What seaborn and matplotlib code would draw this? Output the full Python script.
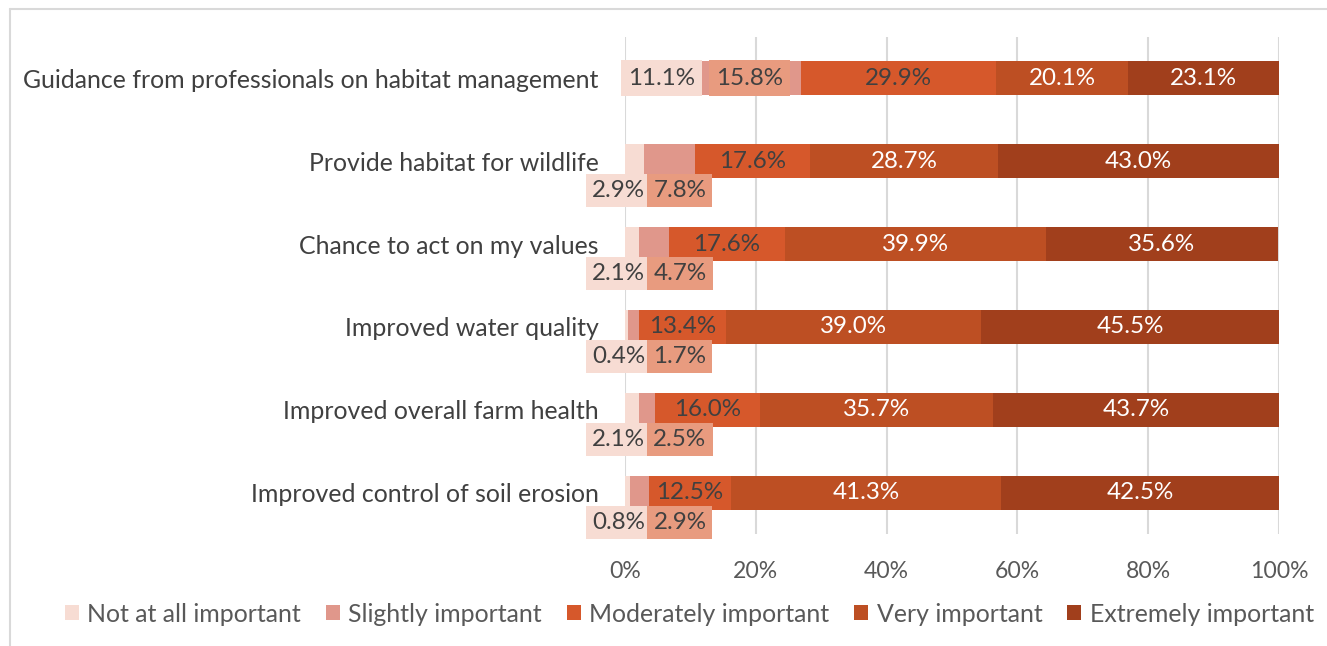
import matplotlib
matplotlib.use("Agg")
import matplotlib.pyplot as plt
from matplotlib.patches import Patch
from matplotlib.lines import Line2D
import numpy as np
import seaborn as sns

# Survey: importance of each motivation (percent of respondents)
categories = [
    "Guidance from professionals on habitat management",
    "Provide habitat for wildlife",
    "Chance to act on my values",
    "Improved water quality",
    "Improved overall farm health",
    "Improved control of soil erosion",
]
levels = [
    "Not at all important",
    "Slightly important",
    "Moderately important",
    "Very important",
    "Extremely important",
]
not_at_all = [11.1, 2.9, 2.1, 0.4, 2.1, 0.8]
slightly = [15.8, 7.8, 4.7, 1.7, 2.5, 2.9]
moderately = [29.9, 17.6, 17.6, 13.4, 16.0, 12.5]
very = [20.1, 28.7, 39.9, 39.0, 35.7, 41.3]
extremely = [23.1, 43.0, 35.6, 45.5, 43.7, 42.5]
xticks = [0, 20, 40, 60, 80, 100]

series = [not_at_all, slightly, moderately, very, extremely]
bar_colors = ["#F7DCD3", "#E0978B", "#D6582B", "#BD4F23", "#A13F1C"]
box_colors = ["#F7DCD3", "#E89B7F"]
text_colors = ["#404040", "#404040", "#404040", "#FFFFFF", "#FFFFFF"]

sns.set_theme(style="white")
plt.rcParams["font.family"] = ["Lato", "DejaVu Sans"]
FS_CAT = 17.9
FS_TICK = 16.6
FS_VAL = 17.4
FS_LEG = 17.9

W, H = 1327, 646
fig = plt.figure(figsize=(W / 100, H / 100), dpi=100)
ax = fig.add_axes([625 / W, 1 - 534 / H, 654 / W, (534 - 37) / H])

values = np.array(series)
cum = np.cumsum(values, axis=0)

# stacked bars: draw cumulative totals from longest to shortest
for i in reversed(range(len(levels))):
    sns.barplot(x=cum[i], y=categories, orient="h", color=bar_colors[i],
                width=0.41, saturation=1, errorbar=None, linewidth=0, ax=ax)

ax.set_xlim(0, 100)
ax.set_ylim(len(categories) - 0.506, -0.494)
ax.set_xticks(xticks)
ax.set_xticklabels([f"{t}%" for t in xticks])
ax.grid(axis="x", color="#D9D9D9", linewidth=1.5)
ax.grid(axis="y", visible=False)
ax.set_axisbelow(True)
for s in ax.spines.values():
    s.set_visible(False)
ax.set_xlabel("")
ax.set_ylabel("")
ax.tick_params(axis="x", length=0, pad=19.5, labelsize=FS_TICK, labelcolor="#595959")
ax.tick_params(axis="y", length=0, pad=19, labelsize=FS_CAT, labelcolor="#404040")

# value labels; small leading segments get boxed labels beneath the bar
below_x = [-1.0, 8.4]
for r in range(len(categories)):
    for i in range(len(levels)):
        v = values[i, r]
        center = cum[i, r] - v / 2
        kw = dict(ha="center", va="center", fontsize=FS_VAL, color=text_colors[i])
        if i < 2:
            if v < 10:
                kw["bbox"] = dict(boxstyle="square,pad=0.25", facecolor=box_colors[i],
                                  edgecolor="none")
                ax.text(below_x[i], r + 0.35, f"{v:.1f}%", clip_on=False, **kw)
                continue
            kw["bbox"] = dict(boxstyle="square,pad=0.3", facecolor=box_colors[i],
                              edgecolor="none")
        ax.text(center, r, f"{v:.1f}%", **kw)

handles = [Patch(facecolor=c, edgecolor="none") for c in bar_colors]
fig.legend(handles, levels, loc="center", bbox_to_anchor=(0.5195, 1 - 614 / H),
           ncol=5, frameon=False, fontsize=FS_LEG, labelcolor="#595959",
           handlelength=0.55, handleheight=0.55, handletextpad=0.35,
           columnspacing=1.0)

# chart frame
frame = "#D9D9D9"
fig.add_artist(Line2D([10 / W, 1], [1 - 9 / H, 1 - 9 / H], color=frame, lw=1.5,
                      transform=fig.transFigure))
fig.add_artist(Line2D([10 / W, 10 / W], [0, 1 - 9 / H], color=frame, lw=1.5,
                      transform=fig.transFigure))

fig.savefig("out.png", dpi=100, facecolor="white")
